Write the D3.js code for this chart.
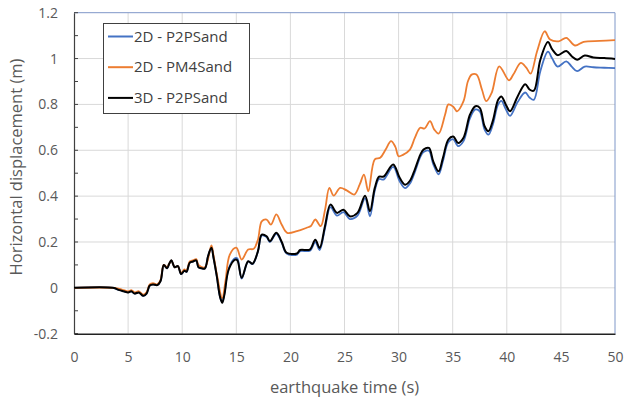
<!DOCTYPE html>
<html><head><meta charset="utf-8">
<script src="https://cdn.jsdelivr.net/npm/d3@7"></script>
<style>body{margin:0;background:#fff;}svg{display:block;font-family:"Open Sans",sans-serif;}</style>
</head><body>
<svg id="c" width="625" height="400"></svg>
<script>
// ---- data ----
const xTicks = [0,5,10,15,20,25,30,35,40,45,50];
const yTicks = [-0.2,0,0.2,0.4,0.6,0.8,1,1.2];
const yTickLabels = ["-0.2","0","0.2","0.4","0.6","0.8","1","1.2"];
const seriesNames = ["2D - P2PSand","2D - PM4Sand","3D - P2PSand"];

// 3D - P2PSand and 2D - P2PSand share this time grid
const timeP2P = [0,3.6,4.2,4.6,5.0,5.3,5.6,6.0,6.4,6.7,7.0,7.3,7.7,8.0,8.3,8.6,8.8,9.0,9.3,9.6,9.9,10.2,10.4,10.7,11.0,11.3,11.5,11.8,12.1,12.4,12.7,12.9,13.2,13.5,13.7,13.9,14.3,14.9,15.1,15.5,16.1,16.5,17.0,17.35,17.8,18.1,18.7,19.2,19.65,20.6,20.9,21.8,22.3,22.7,23.2,23.7,24.3,24.9,25.5,26.2,26.9,27.35,27.8,28.2,28.6,29.5,30.1,30.6,31.05,31.5,32.0,32.3,32.8,33.2,33.7,34.1,34.6,35.05,35.5,36.0,36.6,37.1,37.5,37.95,38.3,38.7,39.2,39.5,39.9,40.3,41.0,41.7,42.1,42.5,43.1,43.8,44.2,44.7,45.5,46.0,46.5,47.2,48.0,49.0,50.0];
const disp3D = [0,0,-0.01,-0.015,-0.02,-0.015,-0.025,-0.02,-0.035,-0.025,0.01,0.015,0.012,0.03,0.1,0.085,0.105,0.12,0.09,0.095,0.06,0.075,0.07,0.11,0.115,0.12,0.09,0.085,0.085,0.14,0.175,0.13,0.05,-0.04,-0.065,-0.03,0.08,0.123,0.12,0.044,0.116,0.105,0.16,0.232,0.225,0.203,0.24,0.2,0.153,0.15,0.165,0.167,0.21,0.174,0.27,0.363,0.327,0.341,0.312,0.327,0.402,0.334,0.436,0.485,0.485,0.538,0.48,0.45,0.467,0.516,0.58,0.603,0.61,0.552,0.508,0.567,0.647,0.66,0.632,0.655,0.756,0.792,0.785,0.705,0.683,0.727,0.82,0.835,0.8,0.77,0.835,0.888,0.865,0.86,0.995,1.072,1.04,1.015,1.033,1.01,0.995,1.013,1.005,1.002,0.998];
const disp2DP2P = [0,0,-0.01,-0.015,-0.02,-0.015,-0.025,-0.02,-0.035,-0.025,0.01,0.015,0.012,0.03,0.1,0.085,0.105,0.12,0.09,0.095,0.06,0.075,0.07,0.11,0.115,0.12,0.09,0.085,0.085,0.14,0.175,0.13,0.05,-0.04,-0.062,-0.025,0.085,0.13,0.128,0.04,0.115,0.104,0.158,0.228,0.222,0.2,0.236,0.196,0.15,0.145,0.16,0.162,0.2,0.165,0.26,0.352,0.315,0.33,0.3,0.315,0.39,0.312,0.425,0.475,0.472,0.528,0.465,0.435,0.455,0.505,0.57,0.592,0.598,0.54,0.495,0.553,0.635,0.648,0.618,0.64,0.74,0.778,0.77,0.69,0.668,0.71,0.8,0.815,0.78,0.75,0.81,0.852,0.83,0.82,0.945,1.03,1.0,0.965,0.988,0.965,0.945,0.965,0.962,0.96,0.958];

// 2D - PM4Sand has its own time grid
const timePM4 = [0,3.6,4.2,4.6,5.0,5.3,5.6,6.0,6.4,6.7,7.0,7.3,7.7,8.0,8.3,8.6,8.8,9.0,9.3,9.6,9.9,10.2,10.4,10.7,11.0,11.3,11.5,12.1,12.7,12.9,13.2,13.7,14.0,14.4,15.0,15.5,16.1,16.6,17.0,17.35,17.8,18.2,18.7,19.2,19.7,20.6,21.5,21.9,22.3,22.8,23.2,23.6,24.0,24.6,25.2,25.9,26.4,26.8,27.2,27.8,28.3,28.8,29.3,29.7,30.0,30.4,31.05,31.5,32.0,32.4,32.9,33.3,33.7,34.3,34.6,35.05,35.4,36.0,36.4,36.75,37.2,37.7,38.1,38.6,39.3,40.2,40.6,41.3,41.8,42.2,42.8,43.5,44.0,44.8,45.5,46.3,47.1,48.6,50.0];
const dispPM4 = [0,0,-0.005,-0.01,-0.015,-0.01,-0.02,-0.015,-0.03,-0.02,0.015,0.02,0.015,0.035,0.1,0.09,0.105,0.12,0.09,0.095,0.065,0.08,0.075,0.115,0.12,0.125,0.1,0.09,0.185,0.14,0.06,-0.045,0.03,0.145,0.175,0.123,0.167,0.17,0.21,0.29,0.298,0.276,0.32,0.275,0.24,0.247,0.262,0.27,0.298,0.269,0.34,0.436,0.402,0.436,0.425,0.407,0.45,0.494,0.421,0.56,0.567,0.603,0.64,0.615,0.574,0.58,0.603,0.654,0.698,0.695,0.727,0.69,0.673,0.756,0.8,0.79,0.77,0.814,0.9,0.93,0.93,0.865,0.814,0.85,0.966,0.905,0.93,0.981,0.96,0.934,1.032,1.119,1.083,1.075,1.09,1.057,1.073,1.077,1.08];

const colors = ["#4472C4","#ED7D31","#000000"];

// ---- chart ----
const svg = d3.select("#c");
const L = 74, R = 615, T = 12.7, B = 333.7;
const x = d3.scaleLinear().domain([0,50]).range([L,R]);
const y = d3.scaleLinear().domain([-0.2,1.2]).range([B,T]);

// gridlines
svg.append("g").selectAll("line").data(xTicks.slice(1,-1)).join("line")
  .attr("x1",d=>x(d)).attr("x2",d=>x(d)).attr("y1",T).attr("y2",B)
  .attr("stroke","#d9d9d9").attr("stroke-width",1);
svg.append("g").selectAll("line").data(yTicks.slice(1,-1)).join("line")
  .attr("x1",L).attr("x2",R).attr("y1",d=>y(d)).attr("y2",d=>y(d))
  .attr("stroke","#d9d9d9").attr("stroke-width",1);

// top/right frame
svg.append("path").attr("d",`M${L},${T}H${R}V${B}`).attr("fill","none")
  .attr("stroke","#7f97c8").attr("stroke-width",1);

// y axis
const yAxis = d3.axisLeft(y).tickValues(yTicks).tickFormat((d,i)=>yTickLabels[i]).tickSize(0).tickPadding(16);
const gy = svg.append("g").attr("transform",`translate(${L},0)`).call(yAxis);
gy.select(".domain").attr("stroke","#404040").attr("stroke-width",1.2);
gy.selectAll("text").attr("fill","#595959").style("font-size","14px").style("font-family","'Open Sans',sans-serif");
// minor inward ticks
const minor = d3.range(-2,13).map(v=>v/10);
svg.append("g").selectAll("line").data(minor).join("line")
  .attr("x1",L).attr("x2",L+4).attr("y1",d=>y(d)).attr("y2",d=>y(d))
  .attr("stroke","#404040").attr("stroke-width",1);

// x axis
const xAxis = d3.axisBottom(x).tickValues(xTicks).tickFormat(d3.format("d")).tickSize(0).tickPadding(18);
const gx = svg.append("g").attr("transform",`translate(0,${B})`).call(xAxis);
gx.select(".domain").attr("stroke","#222").attr("stroke-width",1.5);
gx.selectAll("text").attr("fill","#595959").style("font-size","14px").style("font-family","'Open Sans',sans-serif");

// lines
const line = d3.line().x(d=>x(d[0])).y(d=>y(d[1])).curve(d3.curveCatmullRom.alpha(0.5));
const s2DP2P = timeP2P.map((t,i)=>[t,disp2DP2P[i]]);
const sPM4 = timePM4.map((t,i)=>[t,dispPM4[i]]);
const s3D = timeP2P.map((t,i)=>[t,disp3D[i]]);
svg.append("path").attr("d",line(s2DP2P)).attr("fill","none").attr("stroke",colors[0]).attr("stroke-width",1.8).attr("stroke-linejoin","round");
svg.append("path").attr("d",line(sPM4)).attr("fill","none").attr("stroke",colors[1]).attr("stroke-width",1.8).attr("stroke-linejoin","round");
svg.append("path").attr("d",line(s3D)).attr("fill","none").attr("stroke",colors[2]).attr("stroke-width",2).attr("stroke-linejoin","round");

// axis titles
svg.append("text").attr("x",(L+R)/2).attr("y",393).attr("text-anchor","middle")
  .attr("fill","#595959").style("font-size","16.5px").text("earthquake time (s)");
svg.append("text").attr("transform",`translate(22,167) rotate(-90)`).attr("text-anchor","middle")
  .attr("fill","#595959").style("font-size","16.5px").text("Horizontal displacement (m)");

// legend
const lg = svg.append("g");
lg.append("rect").attr("x",103.5).attr("y",23.5).attr("width",146).attr("height",90)
  .attr("fill","#fff").attr("stroke","#404040").attr("stroke-width",1);
seriesNames.forEach((n,i)=>{
  const yy = 36.5 + i*30.7;
  lg.append("line").attr("x1",108).attr("x2",133).attr("y1",yy).attr("y2",yy)
    .attr("stroke",colors[i]).attr("stroke-width",2);
  lg.append("text").attr("x",134).attr("y",yy).attr("dy","0.35em")
    .attr("fill","#404040").style("font-size","15px").text(n);
});
</script>
</body></html>
